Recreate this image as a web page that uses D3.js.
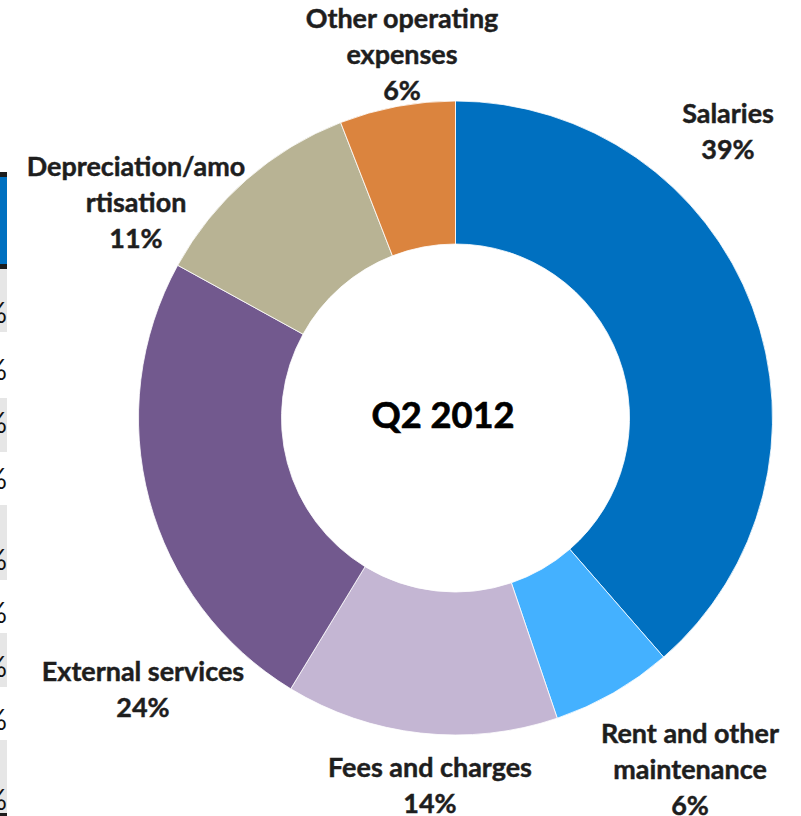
<!DOCTYPE html>
<html>
<head>
<meta charset="utf-8">
<script src="https://cdn.jsdelivr.net/npm/d3@7"></script>
<style>
  html, body { margin: 0; padding: 0; background: #fff; }
  svg { display: block; }
  text { font-family: Lato, "Open Sans", sans-serif; font-weight: bold; fill: #1e1e1e; }
</style>
</head>
<body>
<svg id="chart" width="801" height="816"></svg>
<script>
// ---- data ----
const categories = ["Salaries", "Rent and other\nmaintenance", "Fees and charges", "External services", "Depreciation/amo\nrtisation", "Other operating\nexpenses"];
const values = [38.6, 6.2, 13.9, 24.3, 11.1, 5.9];
const percentLabels = ["39%", "6%", "14%", "24%", "11%", "6%"];
const centerTitle = "Q2 2012";
// ---- style / layout ----
const colors = ["#0070c0", "#44b1ff", "#c4b6d3", "#72598e", "#b8b394", "#db843e"];
const labelAnchors = [[728, 123], [690, 743], [430, 777], [143, 681], [136, 176], [402, 28]]; // first baseline of each label
const lineGap = 36;

const svg = d3.select("#chart");

// cropped table fragments at the left edge
const frag = svg.append("g");
frag.append("rect").attr("x", 0).attr("y", 172).attr("width", 7).attr("height", 5).attr("fill", "#1c1c1c");
frag.append("rect").attr("x", 0).attr("y", 177).attr("width", 7).attr("height", 87).attr("fill", "#0070c0");
frag.append("rect").attr("x", 0).attr("y", 264).attr("width", 7).attr("height", 5).attr("fill", "#1c1c1c");
[[269, 63], [398, 54], [505, 75], [633, 54], [740, 73]].forEach(([y, h]) =>
  frag.append("rect").attr("x", 0).attr("y", y).attr("width", 7).attr("height", h).attr("fill", "#e6e6e6"));
frag.append("rect").attr("x", 0).attr("y", 813).attr("width", 7).attr("height", 3).attr("fill", "#1c1c1c");
[323, 380, 433, 489, 570, 623, 677, 730, 810].forEach(y =>
  frag.append("text").attr("x", 7).attr("y", y).attr("text-anchor", "end")
    .style("font-weight", "normal").style("font-size", "28px").style("fill", "#111").text("%"));

// donut
const cx = 455.5, cy = 418, R = 317, r = 174;
const pie = d3.pie().sort(null).value(d => d);
const arc = d3.arc().innerRadius(r).outerRadius(R);
const g = svg.append("g").attr("transform", `translate(${cx},${cy})`);
g.selectAll("path").data(pie(values)).join("path")
  .attr("d", arc)
  .attr("fill", (d, i) => colors[i])
  .attr("stroke", "#fff").attr("stroke-width", 0.8);

// fit font sizes to reference widths
function fitSize(str, target, base) {
  const t = svg.append("text").style("font-size", base + "px").text(str);
  const w = t.node().getComputedTextLength();
  t.remove();
  return base * target / w;
}
const labelSize = fitSize("Fees and charges", 204, 22);
const titleSize = fitSize(centerTitle, 143, 38);

// labels
const lab = svg.append("g");
categories.forEach((c, i) => {
  const lines = c.split("\n").concat([percentLabels[i]]);
  const t = lab.append("text")
    .attr("text-anchor", "middle")
    .style("font-size", labelSize + "px")
    .style("stroke", "#1e1e1e").style("stroke-width", 0.45);
  lines.forEach((ln, k) => {
    t.append("tspan").attr("x", labelAnchors[i][0]).attr("y", labelAnchors[i][1] + k * lineGap).text(ln);
  });
});

// center title
svg.append("text").attr("x", 443).attr("y", 428).attr("text-anchor", "middle")
  .style("font-size", titleSize + "px").style("fill", "#000")
  .style("stroke", "#000").style("stroke-width", 0.7).text(centerTitle);
</script>
</body>
</html>
